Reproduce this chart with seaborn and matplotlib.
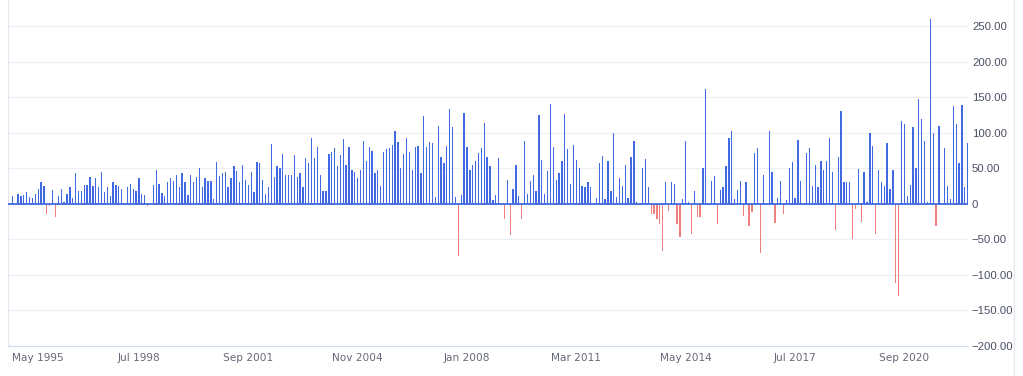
import numpy as np
import pandas as pd
import matplotlib
matplotlib.use("Agg")
import matplotlib.pyplot as plt
import matplotlib.transforms as mtransforms
from matplotlib.lines import Line2D
import seaborn as sns

# monthly changes, first bar = Nov 1994 (left to right)
START_MONTH = "1994-11"
vals_a = [11, 0, 14, 11, 13, 16, 9, 8, 14, 21, 30, 25, -15, -3, 20, -18, 11, 21, 3, 14,
          23, 8, 43, 18, 18, 27, 27, 37, 25, 36, 23, 44, 16, 23, 11, 31, 27, 25, 21, 1]
vals_b = [24, 28, 21, 18, 36, 14, 12, -3, 0, 27, 48, 28, 15, 11, 31, 36, 32, 41, 23, 43,
          31, 12, 40, 30, 37, 50, 24, 36, 32, 32, 6, 59, 39, 43, 44, 24, 36, 53, 46, 30, 54, 33]
vals_c = [26, 44, 16, 59, 57, 34, 14, 24, 84, 37, 53, 51, 70, 41, 41, 41, 69, 37, 43, 24,
          64, 57, 92, 64, 80, 41, 18, 18, 70, 73, 79, 53, 69, 91, 54, 80, 47, 44, 36, 47, 89]
vals_d = [60, 80, 74, 43, 48, 25, 73, 77, 79, 83, 102, 87, 51, 70, 92, 73, 47, 80, 82, 43,
          124, 80, 87, 86, 10, 109, 66, 57, 82, 134, 108, 9, -73, 12, 128, 80, 47, 55, 60, 72, 79, 114]
vals_e = [66, 53, 5, 12, 64, 0, -22, 34, -44, 21, 54, 11, -21, 89, 14, 32, 40, 18, 125, 62,
          14, 46, 140, 80, 34, 43, 60, 127, 77, 28, 83, 62, 50, 25, 23, 30, 23, 1, 8, 57, 67]
vals_f = [6, 60, 18, 100, 9, 36, 25, 54, 8, 66, 89, 2, -2, 51, 63, 24, -14, -14, -22, -28,
          -67, 30, -10, 30, 28, -29, -47, 7, 89, 3, -42, 18, -19, -19, 51, 162, -2, 32, 39, -28, 19, 24]
vals_g = [53, 92, 102, 7, 20, 32, -17, 30, -31, -12, 71, 78, -69, 40, -2, 102, 44, -27, 8, 32,
          -14, 5, 51, 59, 8, 90, 32, 0, 72, 79, 25, 55, 23, 60, 47, 60, 92, 44, -37, 66, 130, 30]
vals_h = [31, 31, -49, -7, 49, -26, 45, 3, 99, 82, -42, 48, 30, 25, 85, 21, 48, -111, -130, 116,
          112, 11, 27, 108, 50, 147, 119, 89, 3, 260, 99, -31, 109, 0, 78, 25, 6, 137, 113, 57, 139, 23, 86]

tick_labels = ["May 1995", "Jul 1998", "Sep 2001", "Nov 2004", "Jan 2008",
               "Mar 2011", "May 2014", "Jul 2017", "Sep 2020"]
y_ticks = [-200, -150, -100, -50, 0, 50, 100, 150, 200, 250]


def main():
    sns.set_style("white")
    plt.rcParams["font.family"] = ["DejaVu Sans"]

    values = vals_a + vals_b + vals_c + vals_d + vals_e + vals_f + vals_g + vals_h
    months = pd.period_range(START_MONTH, periods=len(values), freq="M")
    month_names = [m.strftime("%b %Y") for m in months]

    df = pd.DataFrame({"pos": np.arange(len(values)), "value": values})
    df["sign"] = np.where(df["value"] < 0, "neg", "pos")

    W, H = 1023, 376
    fig = plt.figure(figsize=(W / 100, H / 100), dpi=100)
    ax = fig.add_axes([8 / W, 1 - 345.7 / H, 960 / W, 345.7 / H])

    sns.barplot(data=df, x="pos", y="value", hue="sign",
                palette={"pos": "#4169e1", "neg": "#f08080"},
                native_scale=True, width=0.45, dodge=False, errorbar=None,
                saturation=1, linewidth=0, legend=False, ax=ax)

    ax.axhline(0, color="#4169e1", lw=1.3, zorder=3)
    ax.set_xlim(-1.5, len(values) - 0.9)
    ax.set_ylim(-200, 287)

    # y axis on the right
    ax.yaxis.tick_right()
    ax.set_yticks(y_ticks)
    ax.set_yticklabels(["0" if v == 0 else f"{v:.2f}".replace("-", "\u2212") for v in y_ticks],
                       fontfamily="Liberation Sans", fontsize=8.2, color="#4a4e63")
    ax.tick_params(axis="y", length=0, pad=2.8)

    # x axis
    tick_pos = [month_names.index(lbl) for lbl in tick_labels]
    ax.set_xticks(tick_pos)
    ax.set_xticklabels(tick_labels, fontsize=7.6, color="#666a78")
    ax.tick_params(axis="x", length=0, pad=5)
    first = ax.get_xticklabels()[0]
    first.set_transform(first.get_transform() + mtransforms.ScaledTranslation(8 / 100, 0, fig.dpi_scale_trans))

    ax.set_xlabel("")
    ax.set_ylabel("")
    ax.grid(axis="y", color="#eef0f5", lw=1)
    ax.set_axisbelow(True)
    for side in ["top", "right"]:
        ax.spines[side].set_visible(False)
    ax.spines["left"].set_color("#e3e6ee")
    ax.spines["bottom"].set_color("#d3dbf3")

    fig.add_artist(Line2D([1014 / W, 1014 / W], [0, 1], color="#e6e8ee", lw=1))

    fig.savefig("out.png", dpi=100)


if __name__ == "__main__":
    main()
